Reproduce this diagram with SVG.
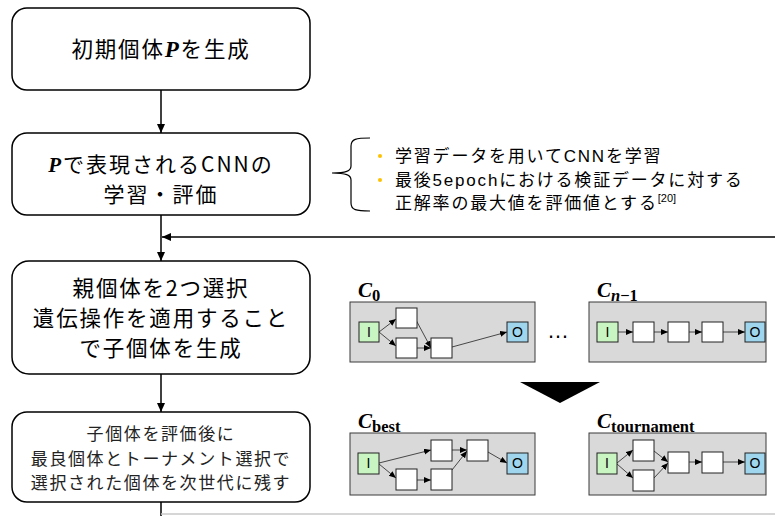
<svg xmlns="http://www.w3.org/2000/svg" width="775" height="516" viewBox="0 0 775 516">
  <defs>
    <marker id="ah" markerUnits="userSpaceOnUse" markerWidth="10" markerHeight="10" refX="9" refY="4" orient="auto">
      <path d="M0,0 L9,4 L0,8 Z" fill="#000"/>
    </marker>
    <marker id="sh" markerUnits="userSpaceOnUse" markerWidth="8" markerHeight="8" refX="7" refY="3" orient="auto">
      <path d="M0,0 L7,3 L0,6 Z" fill="#000"/>
    </marker>
  </defs>
  <style>
    .step{fill:#fff;stroke:#000;stroke-width:1.5}
    .jp{font-family:"Noto Sans CJK JP","Noto Sans",sans-serif;fill:#000;text-anchor:middle}
    .big{font-size:21.5px;letter-spacing:1.8px}
    .mid{font-size:21px;letter-spacing:2px}
    .small{font-size:17px;letter-spacing:1.6px;fill:#222}
    .note{font-family:"Liberation Sans","Noto Sans CJK JP",sans-serif;font-size:17px;letter-spacing:1.8px;fill:#000}
    .math{font-family:"Liberation Serif","DejaVu Serif",serif;font-weight:bold;font-style:italic}
    .sub{font-family:"Liberation Serif","DejaVu Serif",serif;font-weight:bold;font-size:16.5px}
    .flow{stroke:#000;stroke-width:1.5;fill:none}
    .panel{fill:#d9d9d9;stroke:#3a3a3a;stroke-width:1}
    .lay{fill:#fff;stroke:#222;stroke-width:1}
    .in{fill:#c9f5c3;stroke:#222;stroke-width:1}
    .out{fill:#9fd6ee;stroke:#222;stroke-width:1}
    .io{font-family:"Liberation Sans",sans-serif;font-size:14px;text-anchor:middle;fill:#000}
    .edge{stroke:#222;stroke-width:0.8;fill:none}
  </style>

  <!-- flowchart steps -->
  <g id="step-init">
    <rect class="step" x="12" y="8" width="298" height="82" rx="15"/>
    <text class="jp big" x="161" y="57">初期個体<tspan class="math" font-size="23">P</tspan>を生成</text>
  </g>
  <g id="step-train">
    <rect class="step" x="12" y="133" width="298" height="82" rx="15"/>
    <text class="jp mid" x="161" y="172"><tspan class="math">P</tspan>で表現されるCNNの</text>
    <text class="jp mid" x="161" y="202">学習・評価</text>
  </g>
  <g id="step-offspring">
    <rect class="step" x="12" y="261" width="298" height="113" rx="17"/>
    <text class="jp big" x="161" y="296">親個体を2つ選択</text>
    <text class="jp big" x="161" y="326">遺伝操作を適用すること</text>
    <text class="jp big" x="161" y="356">で子個体を生成</text>
  </g>
  <g id="step-select">
    <rect class="step" x="12" y="412" width="298" height="90" rx="15"/>
    <text class="jp small" x="161" y="440">子個体を評価後に</text>
    <text class="jp small" x="161" y="465">最良個体とトーナメント選択で</text>
    <text class="jp small" x="161" y="489">選択された個体を次世代に残す</text>
  </g>

  <!-- training note with brace -->
  <g id="note-train">
    <path d="M370,138 C356,138 351,139 351,146 L351,166 C351,171 346,173 332,173 C346,173 351,175 351,180 L351,203 C351,210 356,211 370,211" fill="none" stroke="#000" stroke-width="1.2"/>
    <circle cx="380" cy="156" r="2" fill="#ffc000"/>
    <circle cx="380" cy="180" r="2" fill="#ffc000"/>
    <text class="note" x="395" y="162">学習データを用いてCNNを学習</text>
    <text class="note" x="395" y="186">最後5epochにおける検証データに対する</text>
    <text class="note" x="395" y="209">正解率の最大値を評価値とする<tspan font-size="11" letter-spacing="0" dy="-7">[20]</tspan></text>
  </g>

  <!-- flow connectors -->
  <g id="connectors">
    <line class="flow" x1="161" y1="90" x2="161" y2="133" marker-end="url(#ah)"/>
    <line class="flow" x1="161" y1="215" x2="161" y2="261" marker-end="url(#ah)"/>
    <line class="flow" x1="775" y1="237" x2="162" y2="237" marker-end="url(#ah)"/>
    <line class="flow" x1="161" y1="374" x2="161" y2="412" marker-end="url(#ah)"/>
    <line class="flow" x1="161" y1="502" x2="161" y2="516"/>
    <line x1="161" y1="514" x2="775" y2="514" stroke="#c8c8c8" stroke-width="1.5"/>
    <polygon points="520,382 600,382 560,403" fill="#000"/>
  </g>

  <!-- candidate network C0 -->
  <g id="net-c0">
    <text class="math" x="358" y="297" font-size="21">C</text><text class="sub" x="372" y="301">0</text>
    <rect class="panel" x="350" y="302" width="185" height="60"/>
    <line class="edge" x1="379" y1="332" x2="396" y2="319" marker-end="url(#sh)"/>
    <line class="edge" x1="379" y1="332" x2="396" y2="346" marker-end="url(#sh)"/>
    <line class="edge" x1="416" y1="320" x2="431" y2="348" marker-end="url(#sh)"/>
    <line class="edge" x1="417" y1="348" x2="431" y2="348" marker-end="url(#sh)"/>
    <line class="edge" x1="452" y1="347" x2="507" y2="332" marker-end="url(#sh)"/>
    <rect class="in" x="359" y="322" width="20" height="20"/><text class="io" x="369" y="337">I</text>
    <rect class="lay" x="396" y="308" width="21" height="20"/>
    <rect class="lay" x="396" y="338" width="21" height="20"/>
    <rect class="lay" x="431" y="338" width="21" height="20"/>
    <rect class="out" x="507" y="322" width="21" height="20"/><text class="io" x="517.5" y="337">O</text>
  </g>

  <text x="558" y="338" font-family="Liberation Sans,sans-serif" font-size="22" text-anchor="middle" fill="#000">…</text>

  <!-- candidate network Cn-1 -->
  <g id="net-cn1">
    <text class="math" x="597" y="297" font-size="21">C</text><text class="sub" x="611" y="301"><tspan font-style="italic">n</tspan>−1</text>
    <rect class="panel" x="589" y="302" width="177" height="60"/>
    <line class="edge" x1="618" y1="332" x2="633" y2="332" marker-end="url(#sh)"/>
    <line class="edge" x1="654" y1="332" x2="668" y2="332" marker-end="url(#sh)"/>
    <line class="edge" x1="689" y1="332" x2="702" y2="332" marker-end="url(#sh)"/>
    <line class="edge" x1="723" y1="332" x2="745" y2="332" marker-end="url(#sh)"/>
    <rect class="in" x="597" y="322" width="21" height="20"/><text class="io" x="607.5" y="337">I</text>
    <rect class="lay" x="633" y="322" width="21" height="20"/>
    <rect class="lay" x="668" y="322" width="21" height="20"/>
    <rect class="lay" x="702" y="322" width="21" height="20"/>
    <rect class="out" x="745" y="322" width="20" height="20"/><text class="io" x="755" y="337">O</text>
  </g>

  <!-- best network -->
  <g id="net-best">
    <text class="math" x="358" y="428" font-size="21">C</text><text class="sub" x="372" y="432">best</text>
    <rect class="panel" x="350" y="433" width="185" height="62"/>
    <line class="edge" x1="379" y1="463" x2="431" y2="450" marker-end="url(#sh)"/>
    <line class="edge" x1="379" y1="464" x2="396" y2="478" marker-end="url(#sh)"/>
    <line class="edge" x1="417" y1="480" x2="431" y2="480" marker-end="url(#sh)"/>
    <line class="edge" x1="452" y1="470" x2="467" y2="451" marker-end="url(#sh)"/>
    <line class="edge" x1="452" y1="450" x2="467" y2="450" marker-end="url(#sh)"/>
    <line class="edge" x1="488" y1="452" x2="507" y2="463" marker-end="url(#sh)"/>
    <rect class="in" x="358" y="453" width="21" height="21"/><text class="io" x="368.5" y="468">I</text>
    <rect class="lay" x="431" y="440" width="21" height="21"/>
    <rect class="lay" x="467" y="440" width="21" height="21"/>
    <rect class="lay" x="396" y="469" width="21" height="21"/>
    <rect class="lay" x="431" y="469" width="21" height="21"/>
    <rect class="out" x="507" y="453" width="21" height="21"/><text class="io" x="517.5" y="468">O</text>
  </g>

  <!-- tournament network -->
  <g id="net-tournament">
    <text class="math" x="597" y="428" font-size="21">C</text><text class="sub" x="611" y="432">tournament</text>
    <rect class="panel" x="589" y="433" width="177" height="62"/>
    <line class="edge" x1="617" y1="463" x2="633" y2="450" marker-end="url(#sh)"/>
    <line class="edge" x1="617" y1="464" x2="633" y2="478" marker-end="url(#sh)"/>
    <line class="edge" x1="654" y1="451" x2="668" y2="462" marker-end="url(#sh)"/>
    <line class="edge" x1="654" y1="478" x2="668" y2="463" marker-end="url(#sh)"/>
    <line class="edge" x1="689" y1="462" x2="702" y2="462" marker-end="url(#sh)"/>
    <line class="edge" x1="723" y1="462" x2="745" y2="462" marker-end="url(#sh)"/>
    <rect class="in" x="597" y="453" width="20" height="21"/><text class="io" x="607" y="468">I</text>
    <rect class="lay" x="633" y="440" width="21" height="21"/>
    <rect class="lay" x="633" y="470" width="21" height="21"/>
    <rect class="lay" x="668" y="452" width="21" height="21"/>
    <rect class="lay" x="702" y="452" width="21" height="21"/>
    <rect class="out" x="745" y="453" width="20" height="21"/><text class="io" x="755" y="468">O</text>
  </g>
</svg>
